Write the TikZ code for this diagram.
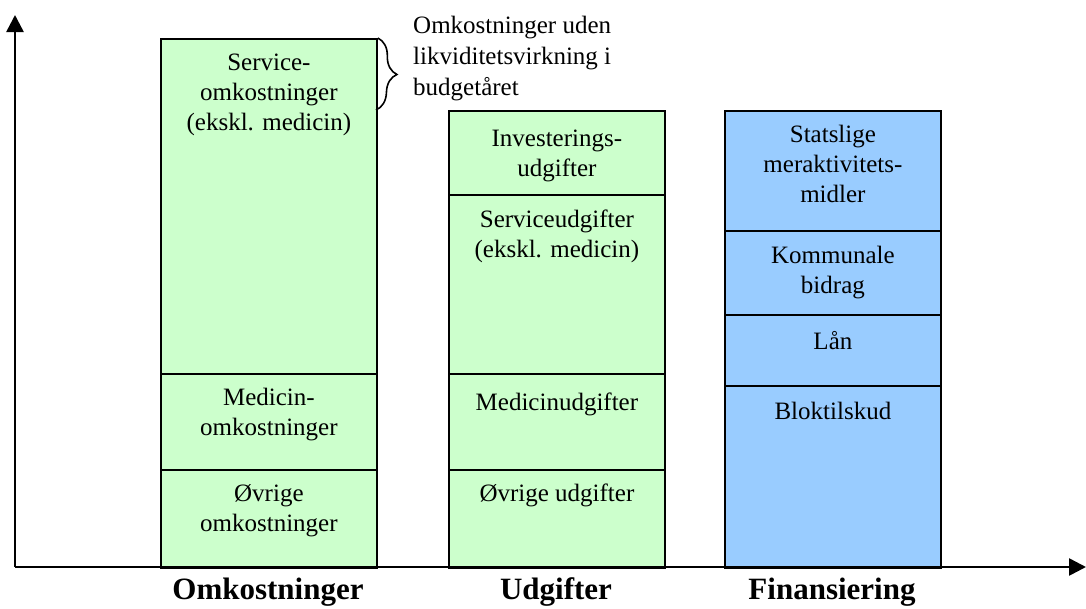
\documentclass[tikz,border=0pt]{standalone}
\usepackage{fontspec}
\setmainfont{Liberation Serif}
\usetikzlibrary{arrows.meta,decorations.pathreplacing}
\definecolor{segGreen}{HTML}{CCFFCC}
\definecolor{segBlue}{HTML}{99CCFF}
\begin{document}
\begin{tikzpicture}[x=1pt,y=-1pt,
  seg/.style={draw=black, line width=1.8pt, inner sep=0pt, minimum width=216pt, anchor=north west},
  segtxt/.style={anchor=north, align=center, inner sep=0pt, font=\fontsize{25}{30}\selectfont},
  axisline/.style={line width=2.6pt, -{Triangle[width=17pt,length=17pt]}},
  catlabel/.style={anchor=base, font=\bfseries\fontsize{31}{36}\selectfont},
  bracestyle/.style={decorate, decoration={brace, amplitude=20pt, aspect=0.5}, line width=1.6pt}]
\useasboundingbox (0,0) rectangle (1086,608);
% Column 1: Omkostninger
\node[seg, fill=segGreen, minimum height=335pt] (c1a) at (160,38) {};
\node[seg, fill=segGreen, minimum height=96pt] (c1b) at (160,373) {};
\node[seg, fill=segGreen, minimum height=98pt] (c1c) at (160,469) {};
% Column 2: Udgifter
\node[seg, fill=segGreen, minimum height=84pt] (c2a) at (448,110) {};
\node[seg, fill=segGreen, minimum height=179pt] (c2b) at (448,194) {};
\node[seg, fill=segGreen, minimum height=96pt] (c2c) at (448,373) {};
\node[seg, fill=segGreen, minimum height=98pt] (c2d) at (448,469) {};
% Column 3: Finansiering
\node[seg, fill=segBlue, minimum height=120pt] (c3a) at (724,110) {};
\node[seg, fill=segBlue, minimum height=84pt] (c3b) at (724,230) {};
\node[seg, fill=segBlue, minimum height=71pt] (c3c) at (724,314) {};
\node[seg, fill=segBlue, minimum height=182pt] (c3d) at (724,385) {};
% texts
\node[segtxt] (t1a) at ([yshift=-16pt]c1a.north) {Service-\\omkostninger\\(ekskl. medicin)};
\node[segtxt] (t1b) at ([yshift=-15pt]c1b.north) {Medicin-\\omkostninger};
\node[segtxt] (t1c) at ([yshift=-15pt]c1c.north) {Øvrige\\omkostninger};
\node[segtxt] (t2a) at ([yshift=-20pt]c2a.north) {Investerings-\\udgifter};
\node[segtxt] (t2b) at ([yshift=-16pt]c2b.north) {Serviceudgifter\\(ekskl. medicin)};
\node[segtxt] (t2c) at ([yshift=-20pt]c2c.north) {Medicinudgifter};
\node[segtxt] (t2d) at ([yshift=-15pt]c2d.north) {Øvrige udgifter};
\node[segtxt] (t3a) at ([yshift=-15pt]c3a.north) {Statslige\\meraktivitets-\\midler};
\node[segtxt] (t3b) at ([yshift=-16pt]c3b.north) {Kommunale\\bidrag};
\node[segtxt] (t3c) at ([yshift=-17pt]c3c.north) {Lån};
\node[segtxt] (t3d) at ([yshift=-17pt]c3d.north) {Bloktilskud};
% brace and note
\coordinate (bend) at (376,110);
\draw[bracestyle] (c1a.north east) -- (bend);
\node[anchor=north west, align=left, inner sep=0pt, font=\fontsize{25}{31}\selectfont] (note) at (413,16) {Omkostninger uden\\likviditetsvirkning i\\budgetåret};
% axes
\coordinate (o) at (15,567);
\coordinate (ytip) at (15,15);
\coordinate (xtip) at (1086,567);
\draw[axisline] (o) -- (ytip);
\draw[axisline] (o) -- (xtip);
% category labels
\node[catlabel] (l1) at (268,599) {Omkostninger};
\node[catlabel] (l2) at (556,599) {Udgifter};
\node[catlabel] (l3) at (832,599) {Finansiering};
\end{tikzpicture}
\end{document}
